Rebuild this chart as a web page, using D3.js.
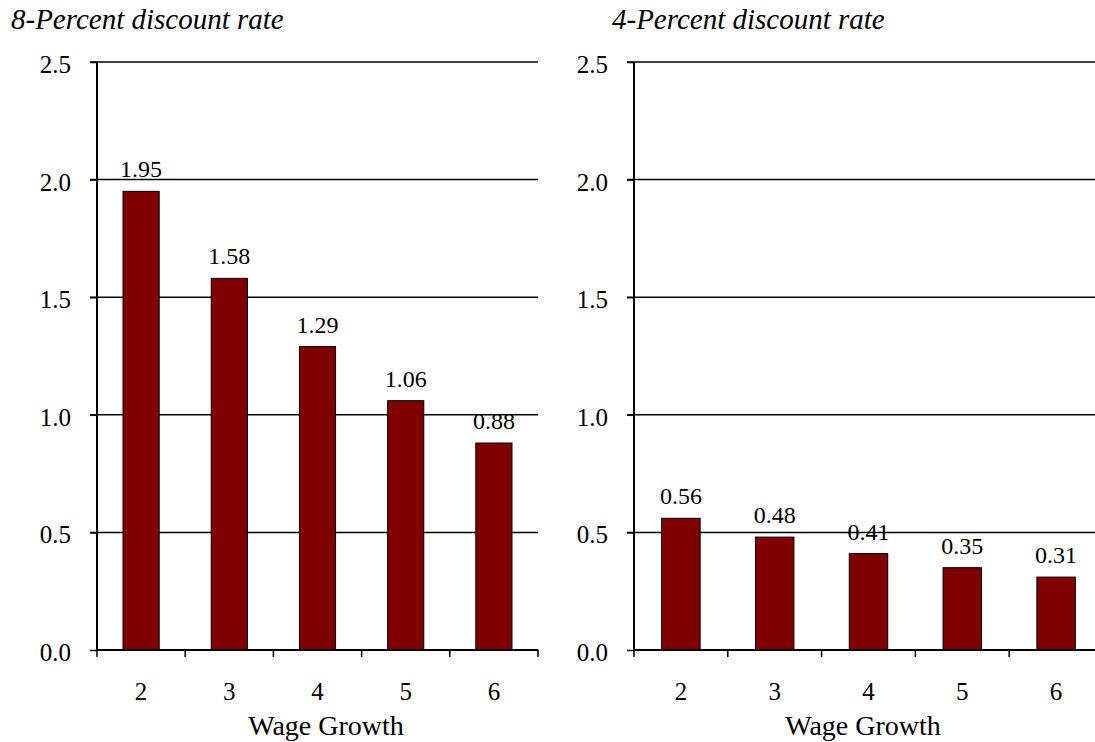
<!doctype html>
<meta charset="utf-8">
<style>
    body { margin: 0; background: #fff; }
</style>
<body>
<script src="https://d3js.org/d3.v7.min.js"></script>
<script>
    const wageGrowth = ['2', '3', '4', '5', '6'];
    const rate8 = [1.95, 1.58, 1.29, 1.06, 0.88];
    const rate4 = [0.56, 0.48, 0.41, 0.35, 0.31];
    const yTicks = [0, 0.5, 1.0, 1.5, 2.0, 2.5];
    const titles = ['8-Percent discount rate', '4-Percent discount rate'];
    const xTitle = 'Wage Growth';

    const FONT = '"Liberation Serif", "Times New Roman", Times, serif';
    const W = 1095, H = 742;
    const svg = d3.select('body').append('svg')
        .attr('width', W)
        .attr('height', H);

    // two panels, each with its own plot box
    const panels = [
        {title: titles[0], values: rate8, left: 97, right: 538, titleX: 11, labelX: 326},
        {title: titles[1], values: rate4, left: 634, right: 1103, titleX: 612, labelX: 863}
    ];
    const plotTop = 62, plotBottom = 650;

    const y = d3.scaleLinear().domain([0, 2.5]).range([plotBottom, plotTop]);

    panels.forEach(p => {
        const g = svg.append('g');
        const x = d3.scaleBand().domain(wageGrowth).range([p.left, p.right]).padding(0);
        const barW = x.bandwidth() * 0.41;
        const rightEdge = Math.min(p.right, W);

        g.append('text')
            .attr('x', p.titleX)
            .attr('y', 29)
            .style('font-family', FONT)
            .style('font-size', '29px')
            .style('font-style', 'italic')
            .text(p.title);

        // gridlines (extend left of the axis as tick marks)
        g.selectAll('.grid')
            .data(yTicks.filter(d => d > 0))
            .enter().append('line')
            .attr('x1', p.left - 7)
            .attr('x2', rightEdge)
            .attr('y1', d => y(d))
            .attr('y2', d => y(d))
            .attr('stroke', '#000')
            .attr('stroke-width', 1.5);

        // y axis
        const yAxis = g.append('g')
            .attr('transform', `translate(${p.left},0)`)
            .call(d3.axisLeft(y).tickValues(yTicks).tickFormat(d3.format('.1f')).tickSize(7).tickPadding(19));
        yAxis.select('.domain').remove();
        yAxis.selectAll('line').attr('stroke', '#000').attr('stroke-width', 1.5);
        yAxis.selectAll('text')
            .attr('dy', '0.42em')
            .style('font-family', FONT)
            .style('font-size', '25px')
            .attr('fill', '#000');
        g.append('line')
            .attr('x1', p.left).attr('x2', p.left)
            .attr('y1', plotTop).attr('y2', plotBottom)
            .attr('stroke', '#000').attr('stroke-width', 2);

        // bars
        g.selectAll('.bar')
            .data(p.values)
            .enter().append('rect')
            .attr('x', (d, i) => x(wageGrowth[i]) + (x.bandwidth() - barW) / 2)
            .attr('y', d => y(d))
            .attr('width', barW)
            .attr('height', d => plotBottom - y(d))
            .attr('fill', '#800000')
            .attr('stroke', '#000')
            .attr('stroke-width', 1);

        // value labels
        g.selectAll('.lbl')
            .data(p.values)
            .enter().append('text')
            .attr('x', (d, i) => x(wageGrowth[i]) + x.bandwidth() / 2)
            .attr('y', d => y(d) - 14)
            .attr('text-anchor', 'middle')
            .style('font-family', FONT)
            .style('font-size', '24px')
            .text(d => d.toFixed(2));

        // x axis with ticks at band boundaries
        const edges = wageGrowth.map(c => x(c)).concat([p.right]);
        g.selectAll('.xt')
            .data(edges)
            .enter().append('line')
            .attr('x1', d => d).attr('x2', d => d)
            .attr('y1', plotBottom).attr('y2', plotBottom + 7)
            .attr('stroke', '#000').attr('stroke-width', 1.5);
        g.append('line')
            .attr('x1', p.left).attr('x2', rightEdge)
            .attr('y1', plotBottom).attr('y2', plotBottom)
            .attr('stroke', '#000').attr('stroke-width', 2);
        g.selectAll('.xl')
            .data(wageGrowth)
            .enter().append('text')
            .attr('x', d => x(d) + x.bandwidth() / 2)
            .attr('y', plotBottom + 50)
            .attr('text-anchor', 'middle')
            .style('font-family', FONT)
            .style('font-size', '25px')
            .text(d => d);

        g.append('text')
            .attr('x', p.labelX)
            .attr('y', plotBottom + 85)
            .attr('text-anchor', 'middle')
            .style('font-family', FONT)
            .style('font-size', '28px')
            .text(xTitle);
    });
</script>
